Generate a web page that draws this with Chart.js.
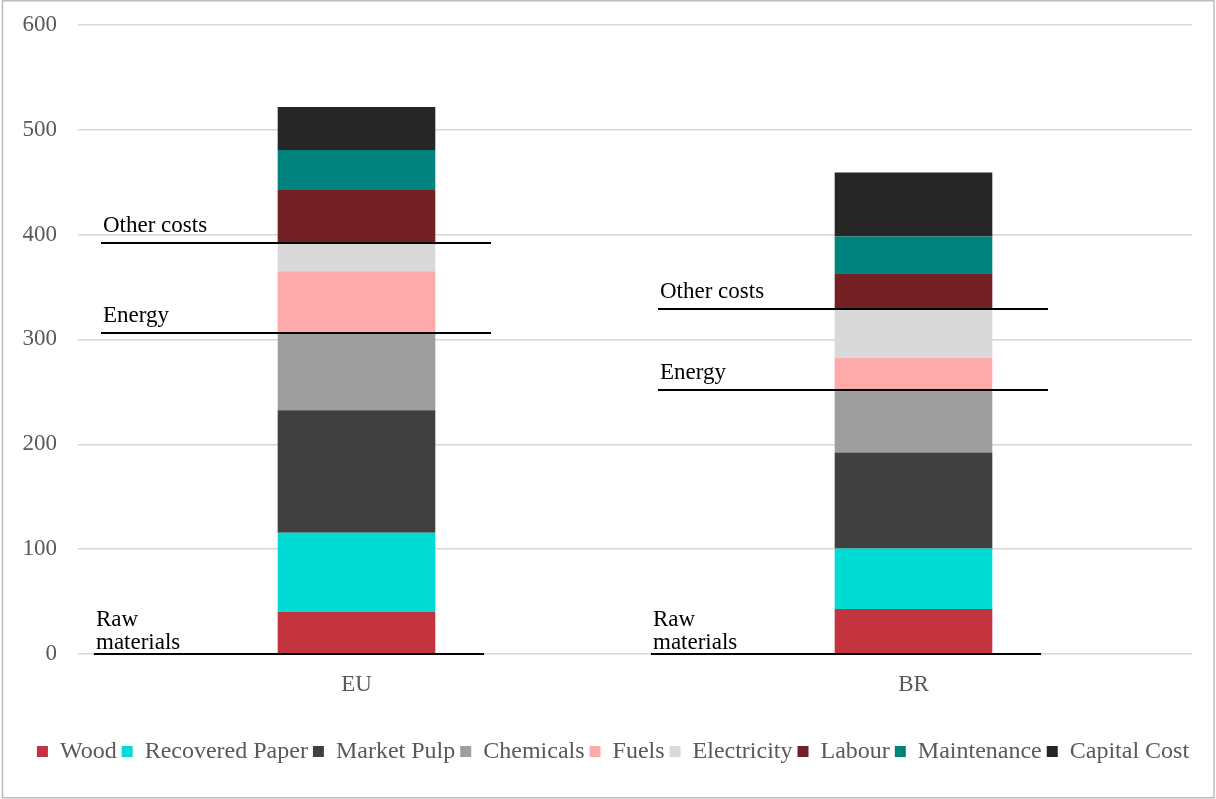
<!DOCTYPE html>
<html>
<head>
<meta charset="utf-8">
<title>Production cost breakdown: EU vs BR</title>
<script src="https://cdn.jsdelivr.net/npm/chart.js@4/dist/chart.umd.min.js"></script>
<style>
  html, body { margin: 0; padding: 0; background: #ffffff; }
  #wrap { position: relative; width: 1216px; height: 799px; }
</style>
</head>
<body>
<div id="wrap"><canvas id="chart" width="1216" height="799"></canvas></div>
<script>
// Categories (regions) on the x axis
const categories = ['EU', 'BR'];

// Cost components per region, stacked bottom to top
const wood           = [40,   43];
const recoveredPaper = [75.5, 57.5];
const marketPulp     = [117,  91.5];
const chemicals      = [73.5, 60];
const fuels          = [59,   30.5];
const electricity    = [26.5, 46.5];
const labour         = [51,   34];
const maintenance    = [38,   35];
const capitalCost    = [41,   61];

// Value axis ticks
const yMin = 0;
const yMax = 600;
const yStep = 100;

// Cost groups: label lines and how many components lie below each group's start
const groupLabels = [['Raw', 'materials'], ['Energy'], ['Other costs']];
const groupStartIndex = [0, 4, 6];

const seriesNames = ['Wood', 'Recovered Paper', 'Market Pulp', 'Chemicals', 'Fuels',
                     'Electricity', 'Labour', 'Maintenance', 'Capital Cost'];
const seriesValues = [wood, recoveredPaper, marketPulp, chemicals, fuels,
                      electricity, labour, maintenance, capitalCost];
const seriesColors = ['#c4343f', '#00dbd5', '#404040', '#9e9e9e', '#ffaaaa',
                      '#d9d9d9', '#741f24', '#00827e', '#262626'];

const FONT = "'Liberation Serif', 'Times New Roman', serif";

// Frame around the whole chart
const framePlugin = {
  id: 'frame',
  beforeDraw(chart) {
    const ctx = chart.ctx;
    ctx.save();
    ctx.fillStyle = '#ffffff';
    ctx.fillRect(0, 0, chart.width, chart.height);
    ctx.strokeStyle = '#bcbcbc';
    ctx.lineWidth = 1.5;
    ctx.strokeRect(2.5, 0.75, chart.width - 4.5, chart.height - 2);
    ctx.restore();
  }
};

// Nudge the legend block sideways after layout
const legendShiftPlugin = {
  id: 'legendShift',
  afterLayout(chart, args, opts) {
    const lg = chart.legend;
    if (lg) {
      lg.left += opts.dx;
      lg.right += opts.dx;
    }
  }
};

// Group separator lines with their labels, drawn at the cumulative stack heights
const groupPlugin = {
  id: 'groups',
  afterDatasetsDraw(chart, args, opts) {
    const ctx = chart.ctx;
    const xs = chart.scales.x;
    const ys = chart.scales.y;
    const band = xs.width / categories.length;
    ctx.save();
    ctx.font = '23px ' + FONT;
    ctx.fillStyle = '#000000';
    ctx.strokeStyle = '#000000';
    ctx.lineWidth = 2;
    ctx.textAlign = 'left';
    ctx.textBaseline = 'alphabetic';
    categories.forEach((cat, ci) => {
      const cx = xs.getPixelForValue(ci);
      groupLabels.forEach((lines, gi) => {
        const below = groupStartIndex[gi];
        let sum = 0;
        for (let s = 0; s < below; s++) sum += seriesValues[s][ci];
        const y = Math.round(ys.getPixelForValue(sum));
        const isBase = below === 0;
        const x0 = cx + band * (isBase ? opts.baseLeft : opts.left);
        const x1 = cx + band * (isBase ? opts.baseRight : opts.right);
        ctx.beginPath();
        ctx.moveTo(x0, y);
        ctx.lineTo(x1, y);
        ctx.stroke();
        const gap = isBase ? 5 : 11;
        for (let li = 0; li < lines.length; li++) {
          const ly = y - gap - (lines.length - 1 - li) * 23.5;
          ctx.fillText(lines[li], x0 + 2, ly);
        }
      });
    });
    ctx.restore();
  }
};

new Chart(document.getElementById('chart'), {
  type: 'bar',
  data: {
    labels: categories,
    datasets: seriesNames.map((name, i) => ({
      label: name,
      data: seriesValues[i],
      backgroundColor: seriesColors[i],
      borderWidth: 0,
      barPercentage: 0.283,
      categoryPercentage: 1
    }))
  },
  options: {
    responsive: false,
    animation: false,
    events: [],
    layout: { padding: { left: 8, right: 24, top: 24.7, bottom: 25.5 } },
    scales: {
      x: {
        stacked: true,
        grid: { display: false },
        border: { display: false },
        ticks: {
          color: '#595959',
          font: { family: FONT, size: 23 },
          padding: 9
        },
        afterFit(scale) { scale.height = 80.5; }
      },
      y: {
        stacked: true,
        min: yMin,
        max: yMax,
        ticks: {
          stepSize: yStep,
          color: '#595959',
          font: { family: FONT, size: 23 },
          padding: 0
        },
        grid: {
          color: '#d6d6d6',
          lineWidth: 1.4,
          drawTicks: true,
          tickLength: 21,
          tickColor: 'rgba(0,0,0,0)'
        },
        border: { display: false },
        afterFit(scale) { scale.width = 70; }
      }
    },
    plugins: {
      legend: {
        position: 'bottom',
        labels: {
          boxWidth: 11,
          boxHeight: 11,
          padding: 5,
          color: '#595959',
          font: { family: FONT, size: 24 }
        }
      },
      tooltip: { enabled: false },
      legendShift: { dx: 13 },
      groups: { left: -0.4587, right: 0.2415, baseLeft: -0.4713, baseRight: 0.2289 }
    }
  },
  plugins: [framePlugin, legendShiftPlugin, groupPlugin]
});
</script>
</body>
</html>
